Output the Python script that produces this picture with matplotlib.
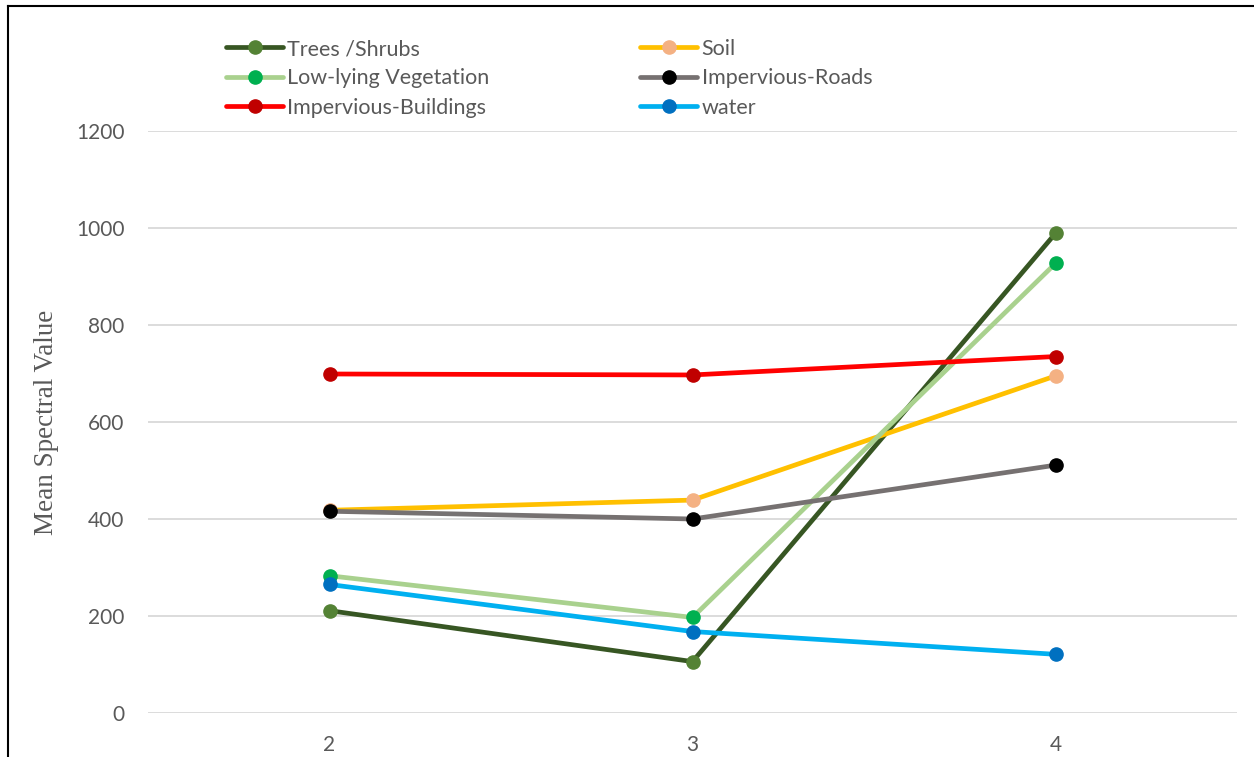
import matplotlib.pyplot as plt
from matplotlib.lines import Line2D

# band numbers on the x axis
bands = [2, 3, 4]

# mean spectral values per land-cover class
trees = [211, 106, 989]
soil = [418, 439, 695]
low_veg = [283, 197, 927]
roads = [416, 400, 511]
buildings = [699, 697, 735]
water = [265, 168, 121]

labels = ["Trees /Shrubs", "Soil", "Low-lying Vegetation",
          "Impervious-Roads", "Impervious-Buildings", "water"]
series = [trees, soil, low_veg, roads, buildings, water]
line_colors = ["#375623", "#FFC000", "#A9D18E", "#767171", "#FF0000", "#00B0F0"]
marker_colors = ["#548235", "#F4B183", "#00B050", "#000000", "#C00000", "#0070C0"]

tick_font = "Lato"
gray = "#595959"

fig = plt.figure(figsize=(12.54, 7.57), dpi=100)
ax = fig.add_axes([148 / 1254, 1 - 713 / 757, 1089 / 1254, 582 / 757])

handles = []
for vals, lab, lc, mc in zip(series, labels, line_colors, marker_colors):
    h, = ax.plot(bands, vals, color=lc, linewidth=3.4, marker="o",
                 markersize=9.5, markerfacecolor=mc, markeredgecolor=mc,
                 label=lab, solid_capstyle="round")
    handles.append(h)

ax.set_xlim(1.5, 4.5)
ax.set_ylim(0, 1200)
ax.set_xticks(bands)
ax.set_yticks(range(0, 1201, 200))
ax.grid(axis="y", color="#D9D9D9", linewidth=1.3)
ax.set_axisbelow(True)
for s in ax.spines.values():
    s.set_visible(False)
ax.tick_params(length=0, labelsize=15, labelcolor=gray)
ax.tick_params(axis="y", pad=17)
ax.tick_params(axis="x", pad=16)
for t in ax.get_xticklabels() + ax.get_yticklabels():
    t.set_fontfamily(tick_font)

ax.set_ylabel("Mean Spectral Value", fontfamily="Liberation Serif",
              fontsize=19.5, color=gray, labelpad=12)

# legend fills row by row in the reference
order = [0, 2, 4, 1, 3, 5]
fig.legend(handles=[handles[i] for i in order], labels=[labels[i] for i in order],
           ncol=2, loc="upper left",
           bbox_to_anchor=(226 / 1254, 1 - 39 / 757), frameon=False,
           prop={"family": tick_font, "size": 15.5}, labelcolor=gray,
           handlelength=2.65, handletextpad=0.2, columnspacing=7.0,
           labelspacing=0.44, borderpad=0, borderaxespad=0)

# outer frame lines (top and left only)
fig.add_artist(Line2D([8 / 1254, 1], [1 - 6 / 757, 1 - 6 / 757],
                      transform=fig.transFigure, color="black", linewidth=1.5))
fig.add_artist(Line2D([8 / 1254, 8 / 1254], [0, 1 - 6 / 757],
                      transform=fig.transFigure, color="black", linewidth=1.5))

fig.savefig("out.png", dpi=100)
